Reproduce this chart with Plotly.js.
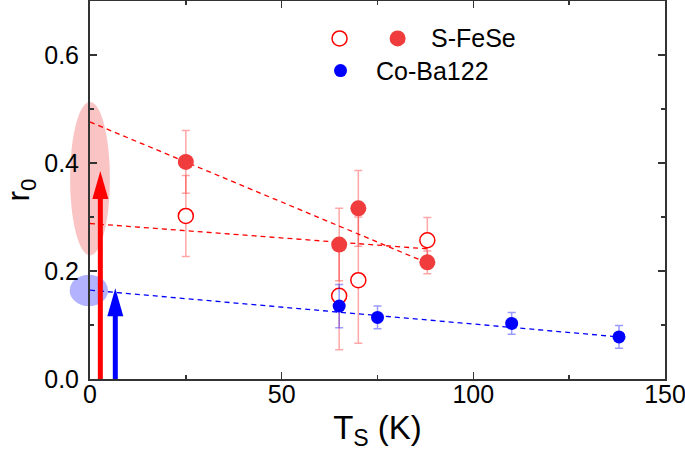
<!DOCTYPE html>
<html>
<head>
<meta charset="utf-8">
<script src="https://cdn.plot.ly/plotly-3.0.1.min.js"></script>
<style>html,body{margin:0;padding:0;background:#fff;}#chart{width:685px;height:451px;}</style>
</head>
<body>
<div id="chart"></div>
<script>
// ---- data ----
const sfeseOpenT   = [25, 65, 70, 88];
const sfeseOpenR   = [0.302, 0.154, 0.183, 0.257];
const sfeseOpenErr = [0.075, 0.100, 0.117, 0.042];

const sfeseFilledT   = [25, 65, 70, 88];
const sfeseFilledR   = [0.402, 0.249, 0.316, 0.216];
const sfeseFilledErr = [0.058, 0.067, 0.070, 0.021];

const coBaT   = [65, 75, 110, 138];
const coBaR   = [0.135, 0.114, 0.103, 0.078];
const coBaErr = [0.040, 0.021, 0.020, 0.021];

const fitFilledT = [0, 88];  const fitFilledR = [0.476, 0.215];
const fitOpenT   = [0, 88];  const fitOpenR   = [0.288, 0.241];
const fitCoT     = [0, 138]; const fitCoR     = [0.1645, 0.078];

// arrows (T position, tip value) : red, blue
const arrowT   = [2.7, 6.6];
const arrowTip = [0.385, 0.168];
// ellipses: centre T, centre r0, half-width T, half-height r0 : red, blue
const ellipseT  = [0, -0.3];
const ellipseR  = [0.371, 0.164];
const ellipseDT = [5.2, 5.0];
const ellipseDR = [0.142, 0.029];

const legendNames = ['S-FeSe', 'Co-Ba122'];
const xTitle = 'T<sub>S</sub> (K)';
const yTitle = 'r<sub>0</sub>';

const xRange = [0, 150], yRange = [0, 0.7];
const FONT = 'Liberation Sans, Arial, sans-serif';
const RED = '#ff0000', BLUE = '#0000ff';
const REDFILL = '#f03c3c';

const toPx = v => (v - xRange[0]) / (xRange[1] - xRange[0]);
const toPy = v => (v - yRange[0]) / (yRange[1] - yRange[0]);

const traces = [
  {x: fitFilledT, y: fitFilledR, mode: 'lines', line: {color: RED, width: 1.3, dash: '5px,4px'}, hoverinfo: 'skip'},
  {x: fitOpenT, y: fitOpenR, mode: 'lines', line: {color: RED, width: 1.3, dash: '5px,4px'}, hoverinfo: 'skip'},
  {x: fitCoT, y: fitCoR, mode: 'lines', line: {color: BLUE, width: 1.3, dash: '5px,4px'}, hoverinfo: 'skip'},
  {x: sfeseOpenT, y: sfeseOpenR, mode: 'markers',
   error_y: {type: 'data', array: sfeseOpenErr, color: 'rgba(255,0,0,0.35)', thickness: 1.5, width: 4},
   marker: {symbol: 'circle', size: 15, color: '#ffffff', line: {color: RED, width: 1.5}}},
  {x: sfeseFilledT, y: sfeseFilledR, mode: 'markers',
   error_y: {type: 'data', array: sfeseFilledErr, color: 'rgba(255,0,0,0.35)', thickness: 1.5, width: 4},
   marker: {symbol: 'circle', size: 16, color: REDFILL, line: {width: 0}}},
  {x: coBaT, y: coBaR, mode: 'markers',
   error_y: {type: 'data', array: coBaErr, color: 'rgba(0,0,255,0.4)', thickness: 1.5, width: 4},
   marker: {symbol: 'circle', size: 13, color: BLUE, line: {width: 0}}}
];

const shapes = [];
const ellColors = ['rgba(240,60,60,0.3)', 'rgba(0,0,255,0.3)'];
for (let i = 0; i < ellipseT.length; i++) {
  shapes.push({type: 'circle', xref: 'paper', yref: 'paper', layer: 'below',
    x0: toPx(ellipseT[i] - ellipseDT[i]), x1: toPx(ellipseT[i] + ellipseDT[i]),
    y0: toPy(ellipseR[i] - ellipseDR[i]), y1: toPy(ellipseR[i] + ellipseDR[i]),
    fillcolor: ellColors[i], line: {width: 0}});
}
const arrColors = [RED, BLUE];
const pxPerUnitY = 378 / (yRange[1] - yRange[0]);
for (let i = 0; i < arrowT.length; i++) {
  shapes.push({type: 'line', xref: 'x', yref: 'y', layer: 'above',
    x0: arrowT[i], x1: arrowT[i], y0: 0, y1: arrowTip[i] - 22 / pxPerUnitY,
    line: {color: arrColors[i], width: 5}});
  shapes.push({type: 'path', xref: 'x', yref: 'y', layer: 'above',
    xsizemode: 'pixel', ysizemode: 'pixel', xanchor: arrowT[i], yanchor: arrowTip[i],
    path: 'M 0 0 L -8 -28 L 8 -28 Z', fillcolor: arrColors[i], line: {width: 0}});
}
// legend symbols (paper coords, pixel sized)
const legSym = [
  {x: 0.434, y: 0.901, d: 15, fill: '#ffffff', line: RED, lw: 1.5},
  {x: 0.535, y: 0.901, d: 16, fill: REDFILL, line: REDFILL, lw: 0},
  {x: 0.4357, y: 0.816, d: 13, fill: BLUE, line: BLUE, lw: 0}
];
legSym.forEach(s => shapes.push({type: 'circle', xref: 'paper', yref: 'paper',
  xsizemode: 'pixel', ysizemode: 'pixel', xanchor: s.x, yanchor: s.y,
  x0: -s.d / 2, x1: s.d / 2, y0: -s.d / 2, y1: s.d / 2,
  fillcolor: s.fill, line: {color: s.line, width: s.lw}}));

const annotations = [
  {xref: 'paper', yref: 'paper', x: 0.59, y: 0.901, xanchor: 'left', yanchor: 'middle',
   text: legendNames[0], showarrow: false, font: {family: FONT, size: 25, color: '#000'}},
  {xref: 'paper', yref: 'paper', x: 0.494, y: 0.816, xanchor: 'left', yanchor: 'middle',
   text: legendNames[1], showarrow: false, font: {family: FONT, size: 25, color: '#000'}}
];

const axisCommon = {
  showline: true, linecolor: '#333', linewidth: 2, mirror: 'ticks',
  ticks: 'inside', ticklen: 7, tickwidth: 1.5, tickcolor: '#333',
  showgrid: false, zeroline: false, ticklabeloverflow: 'allow',
  tickfont: {family: FONT, size: 25, color: '#000'}
};

const layout = {
  width: 685, height: 451,
  margin: {l: 90, r: 20, t: 1, b: 72},
  paper_bgcolor: '#fff', plot_bgcolor: '#fff',
  showlegend: false,
  font: {family: FONT},
  xaxis: Object.assign({}, axisCommon, {
    range: xRange, dtick: 50, tick0: 0,
    ticklabelstandoff: -8,
    minor: {dtick: 25, ticks: 'inside', ticklen: 4, tickwidth: 1.5, tickcolor: '#333'},
    title: {text: xTitle, font: {family: FONT, size: 33, color: '#000'}, standoff: 12}
  }),
  yaxis: Object.assign({}, axisCommon, {
    range: yRange, dtick: 0.2, tick0: 0, tickformat: '.1f',
    minor: {dtick: 0.1, ticks: 'inside', ticklen: 4, tickwidth: 1.5, tickcolor: '#333'},
    ticklabelstandoff: 4,
    title: {text: yTitle, font: {family: FONT, size: 32, color: '#000'}, standoff: 10}
  }),
  shapes: shapes,
  annotations: annotations
};

Plotly.newPlot('chart', traces, layout, {staticPlot: true, displayModeBar: false});
</script>
</body>
</html>
